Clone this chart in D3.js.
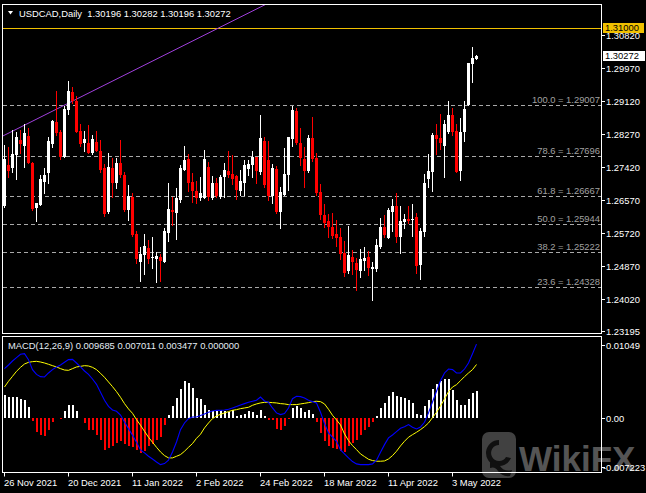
<!DOCTYPE html>
<html><head><meta charset="utf-8">
<script src="https://cdn.jsdelivr.net/npm/d3@7"></script>
<style>html,body{margin:0;padding:0;background:#000;overflow:hidden}svg{display:block}</style>
</head><body>
<script>
const dates = ["2021-11-26","2021-11-29","2021-11-30","2021-12-01","2021-12-02","2021-12-03","2021-12-06","2021-12-07","2021-12-08","2021-12-09","2021-12-10","2021-12-13","2021-12-14","2021-12-15","2021-12-16","2021-12-17","2021-12-20","2021-12-21","2021-12-22","2021-12-23","2021-12-24","2021-12-27","2021-12-28","2021-12-29","2021-12-30","2021-12-31","2022-01-03","2022-01-04","2022-01-05","2022-01-06","2022-01-07","2022-01-10","2022-01-11","2022-01-12","2022-01-13","2022-01-14","2022-01-17","2022-01-18","2022-01-19","2022-01-20","2022-01-21","2022-01-24","2022-01-25","2022-01-26","2022-01-27","2022-01-28","2022-01-31","2022-02-01","2022-02-02","2022-02-03","2022-02-04","2022-02-07","2022-02-08","2022-02-09","2022-02-10","2022-02-11","2022-02-14","2022-02-15","2022-02-16","2022-02-17","2022-02-18","2022-02-21","2022-02-22","2022-02-23","2022-02-24","2022-02-25","2022-02-28","2022-03-01","2022-03-02","2022-03-03","2022-03-04","2022-03-07","2022-03-08","2022-03-09","2022-03-10","2022-03-11","2022-03-14","2022-03-15","2022-03-16","2022-03-17","2022-03-18","2022-03-21","2022-03-22","2022-03-23","2022-03-24","2022-03-25","2022-03-28","2022-03-29","2022-03-30","2022-03-31","2022-04-01","2022-04-04","2022-04-05","2022-04-06","2022-04-07","2022-04-08","2022-04-11","2022-04-12","2022-04-13","2022-04-14","2022-04-15","2022-04-18","2022-04-19","2022-04-20","2022-04-21","2022-04-22","2022-04-25","2022-04-26","2022-04-27","2022-04-28","2022-04-29","2022-05-02","2022-05-03","2022-05-04","2022-05-05","2022-05-06","2022-05-09","2022-05-10","2022-05-11"];

const open = [1.2641,1.2746,1.2739,1.2772,1.2811,1.2795,1.2821,1.2752,1.2636,1.2643,1.2703,1.2725,1.2800,1.2858,1.2830,1.2768,1.2888,1.2935,1.2910,1.2834,1.2804,1.2804,1.2776,1.2806,1.2783,1.2738,1.2624,1.2739,1.2699,1.2752,1.2721,1.2630,1.2665,1.2568,1.2497,1.2514,1.2532,1.2507,1.2504,1.2508,1.2497,1.2572,1.2630,1.2622,1.2656,1.2733,1.2762,1.2703,1.2679,1.2662,1.2660,1.2740,1.2662,1.2701,1.2665,1.2715,1.2731,1.2722,1.2718,1.2680,1.2701,1.2736,1.2745,1.2766,1.2729,1.2808,1.2759,1.2666,1.2736,1.2625,1.2669,1.2721,1.2813,1.2886,1.2802,1.2762,1.2731,1.2815,1.2765,1.2676,1.2618,1.2603,1.2587,1.2568,1.2560,1.2519,1.2473,1.2508,1.2494,1.2474,1.2500,1.2508,1.2478,1.2478,1.2536,1.2587,1.2559,1.2626,1.2641,1.2560,1.2599,1.2606,1.2605,1.2612,1.2489,1.2574,1.2710,1.2727,1.2824,1.2816,1.2795,1.2830,1.2875,1.2834,1.2731,1.2830,1.2901,1.3006,1.30196];
const high = [1.2798,1.2792,1.2837,1.2832,1.2837,1.2851,1.2841,1.2755,1.2649,1.2721,1.2739,1.2818,1.2862,1.2937,1.2837,1.2898,1.2963,1.2948,1.2924,1.2852,1.2834,1.2848,1.2824,1.2834,1.2811,1.2748,1.2777,1.2764,1.2763,1.2811,1.2729,1.2695,1.2673,1.2576,1.2536,1.2568,1.2553,1.2560,1.2523,1.2517,1.2583,1.2699,1.2665,1.2686,1.2746,1.2795,1.2775,1.2725,1.2706,1.2714,1.2785,1.2754,1.2718,1.2713,1.2720,1.2752,1.2782,1.2772,1.2721,1.2733,1.2759,1.2759,1.2782,1.2768,1.2875,1.2818,1.2808,1.2749,1.2744,1.2689,1.2789,1.2818,1.2899,1.2894,1.2841,1.2792,1.2824,1.2869,1.2776,1.2697,1.2646,1.2620,1.2622,1.2605,1.2583,1.2550,1.2590,1.2527,1.2506,1.2529,1.2536,1.2526,1.2497,1.2556,1.2609,1.2618,1.2635,1.2659,1.2673,1.2641,1.2620,1.2641,1.2646,1.2622,1.2585,1.2723,1.2775,1.2828,1.2852,1.2878,1.2862,1.2912,1.2894,1.2852,1.2868,1.2912,1.3010,1.3051,1.30282];
const low = [1.2638,1.2716,1.2727,1.2709,1.2776,1.2740,1.2751,1.2630,1.2603,1.2643,1.2675,1.2701,1.2792,1.2824,1.2761,1.2768,1.2877,1.2907,1.2830,1.2794,1.2781,1.2776,1.2775,1.2781,1.2729,1.2616,1.2623,1.2665,1.2688,1.2716,1.2629,1.2605,1.2564,1.2493,1.2448,1.2465,1.2495,1.2480,1.2446,1.2448,1.2496,1.2551,1.2592,1.2556,1.2652,1.2733,1.2678,1.2652,1.2648,1.2656,1.2660,1.2656,1.2659,1.2665,1.2662,1.2665,1.2716,1.2697,1.2659,1.2669,1.2669,1.2721,1.2716,1.2701,1.2723,1.2689,1.2656,1.2649,1.2622,1.2583,1.2669,1.2682,1.2794,1.2800,1.2746,1.2690,1.2727,1.2757,1.2669,1.2607,1.2587,1.2562,1.2557,1.2538,1.2504,1.2460,1.2469,1.2465,1.2424,1.2459,1.2476,1.2463,1.2399,1.2474,1.2532,1.2560,1.2559,1.2576,1.2549,1.2519,1.2585,1.2596,1.2563,1.2467,1.2453,1.2563,1.2690,1.2680,1.2775,1.2788,1.2714,1.2829,1.2824,1.2727,1.2708,1.2809,1.2900,1.2960,1.30196];
const close = [1.2761,1.2731,1.2774,1.2818,1.2800,1.2828,1.2752,1.2633,1.2648,1.2710,1.2721,1.2808,1.2860,1.2828,1.2768,1.2890,1.2937,1.2910,1.2832,1.2800,1.2813,1.2778,1.2813,1.2783,1.2733,1.2619,1.2742,1.2699,1.2752,1.2721,1.2630,1.2666,1.2566,1.2503,1.2516,1.2538,1.2504,1.2510,1.2512,1.2499,1.2576,1.2633,1.2626,1.2662,1.2739,1.2759,1.2701,1.2678,1.2662,1.2673,1.2762,1.2665,1.2700,1.2666,1.2715,1.2733,1.2721,1.2710,1.2682,1.2706,1.2746,1.2749,1.2766,1.2731,1.2815,1.2695,1.2666,1.2739,1.2624,1.2677,1.2723,1.2818,1.2888,1.2802,1.2764,1.2731,1.2815,1.2762,1.2673,1.2618,1.2596,1.2587,1.2563,1.2557,1.2516,1.2469,1.2514,1.2496,1.2476,1.2503,1.2507,1.2480,1.2484,1.2540,1.2587,1.2566,1.2630,1.2641,1.2560,1.2602,1.2607,1.2602,1.2607,1.2487,1.2576,1.2701,1.2731,1.2824,1.2813,1.2803,1.2852,1.2875,1.2832,1.2729,1.2830,1.2891,1.3008,1.3021,1.30272];

const macdMain = [0.00647,0.00695,0.00747,0.00791,0.00835,0.00843,0.00765,0.00634,0.00572,0.00542,0.00538,0.0059,0.00634,0.00669,0.00695,0.0073,0.00765,0.00769,0.00721,0.00669,0.00616,0.00572,0.00511,0.00441,0.00336,0.00232,0.00153,0.00105,0.00087,0.00039,-0.00052,-0.0014,-0.00227,-0.00319,-0.0042,-0.00459,-0.00503,-0.00538,-0.00577,-0.00612,-0.00599,-0.00555,-0.00446,-0.00315,-0.00153,-0.00066,-0.00009,0.00013,0.00013,0.00031,0.00052,0.00074,0.00092,0.001,0.001,0.00105,0.00114,0.00131,0.00149,0.0017,0.00188,0.00205,0.00219,0.00232,0.00275,0.00223,0.00205,0.00131,0.00066,0.00044,0.00057,0.00131,0.00253,0.00284,0.0028,0.00262,0.00232,0.00214,0.00197,0.00074,-0.00074,-0.00197,-0.00253,-0.00306,-0.0042,-0.00472,-0.00524,-0.00572,-0.00603,-0.00612,-0.00612,-0.00612,-0.00603,-0.00555,-0.0045,-0.0035,-0.00262,-0.00223,-0.00179,-0.00135,-0.00114,-0.00087,-0.00122,-0.00144,-0.00118,-0.00057,0.00066,0.0021,0.0035,0.00489,0.0059,0.00642,0.00634,0.0059,0.0059,0.00642,0.00721,0.00843,0.009685];
const macdSignal = [0.00406,0.00481,0.00546,0.00612,0.00664,0.00708,0.0073,0.00739,0.00743,0.00734,0.00721,0.00704,0.00686,0.00669,0.00647,0.00629,0.00625,0.00647,0.00669,0.00677,0.00686,0.00682,0.00664,0.00634,0.00586,0.00533,0.00472,0.00411,0.00345,0.00271,0.00188,0.00118,0.00061,-0.00022,-0.00096,-0.00175,-0.00253,-0.00319,-0.00385,-0.00446,-0.00494,-0.00524,-0.00524,-0.00503,-0.00481,-0.00437,-0.00385,-0.00336,-0.00267,-0.00214,-0.00131,-0.00066,-0.00009,0.00026,0.00048,0.00066,0.00083,0.001,0.00109,0.00122,0.00131,0.0014,0.00166,0.00184,0.00197,0.00205,0.00205,0.00201,0.00197,0.00188,0.00184,0.00175,0.00175,0.00175,0.00184,0.00192,0.00201,0.00214,0.00219,0.00214,0.00184,0.00114,0.00035,-0.00026,-0.00092,-0.0021,-0.00297,-0.00363,-0.00415,-0.00472,-0.00507,-0.00542,-0.00559,-0.00568,-0.00568,-0.00564,-0.00538,-0.00494,-0.00437,-0.00367,-0.00306,-0.00253,-0.00219,-0.00188,-0.00153,-0.00114,-0.00066,0.00004,0.00074,0.00157,0.00249,0.00345,0.00406,0.00437,0.00489,0.00542,0.0059,0.00634,0.007011];
const macdHist = [0.00306,0.00275,0.00275,0.00271,0.00249,0.0024,0.0014,-0.00044,-0.00188,-0.00227,-0.0024,-0.00162,-0.00057,0,-0.00013,0.00087,0.00175,0.00166,0.00087,0,-0.00066,-0.00162,-0.00153,-0.00219,-0.00284,-0.00424,-0.00393,-0.00371,-0.00328,-0.00306,-0.00336,-0.00363,-0.0038,-0.00424,-0.00459,-0.00437,-0.00363,-0.00336,-0.00284,-0.00249,-0.00087,0.00044,0.00153,0.00262,0.0038,0.00481,0.00459,0.00393,0.00262,0.00249,0.00175,0.00109,0.00096,0.00087,0.00109,0.00087,0.00074,0.001,0.00022,0.00044,0.00057,0.00087,0.00074,0.00044,0.00109,0.0003,-0.00022,-0.0003,-0.00144,-0.00162,-0.001,-0.0001,0.00131,0.00153,0.00131,0.00074,0.001,0.00057,-0.00057,-0.00197,-0.00306,-0.00371,-0.00393,-0.00406,-0.00437,-0.0045,-0.00363,-0.00328,-0.00284,-0.00219,-0.00153,-0.00118,-0.00057,0.0003,0.00131,0.00197,0.00284,0.00336,0.00284,0.00275,0.00262,0.00232,0.00197,0.00057,0.00044,0.00153,0.0024,0.0038,0.0045,0.00481,0.00511,0.00511,0.00371,0.0024,0.00175,0.00175,0.00249,0.00328,0.003477];

const priceTicks = [1.30820,1.29970,1.29120,1.28270,1.27420,1.26570,1.25720,1.24870,1.24020,1.23195];
const macdTickValues = [0.01049, 0.00, -0.007223];
const macdTickLabels = ["0.01049", "0.00", "-0.007223"];
const dateTickDates = ["2021-11-26","2021-12-20","2022-01-11","2022-02-02","2022-02-24","2022-03-18","2022-04-11","2022-05-03"];
const dateTickLabels = ["26 Nov 2021","20 Dec 2021","11 Jan 2022","2 Feb 2022","24 Feb 2022","18 Mar 2022","11 Apr 2022","3 May 2022"];
const fibLevels = [100.0, 78.6, 61.8, 50.0, 38.2, 23.6, 0.0];
const fibPrices = [1.29007, 1.27696, 1.26667, 1.25944, 1.25222, 1.24328, 1.22883];
const levelPrice = 1.31000;
const lastPrice = 1.30272;
const trendDates = ["2021-11-26", "2022-02-24"];
const trendPrices = [1.2823, 1.3153];
const symbolTitle = "USDCAD,Daily";
const ohlcText = ["1.30196", "1.30282", "1.30196", "1.30272"];
const macdTitle = "MACD(12,26,9) 0.009685 0.007011 0.003477 0.000000";

const W = 646, H = 493;
const FONT = "'Liberation Sans', Arial, sans-serif";
const FS = 9.4;
const L = 3, R = 601.5, mainTop = 4.5, mainBot = 333.5, macdTop = 336.5, macdBot = 472.5;

const svg = d3.select("body").append("svg").attr("width", W).attr("height", H)
  .style("font-family", FONT).style("font-size", FS + "px");
svg.append("rect").attr("width", W).attr("height", H).attr("fill", "#000");

const defs = svg.append("defs");
defs.append("clipPath").attr("id", "clipMain").append("rect")
  .attr("x", L).attr("y", mainTop + 0.5).attr("width", R - L).attr("height", mainBot - mainTop - 0.5);
defs.append("clipPath").attr("id", "clipMacd").append("rect")
  .attr("x", L).attr("y", macdTop + 0.5).attr("width", R - L).attr("height", macdBot - macdTop - 0.5);

const x = d3.scaleBand().domain(dates).range([2.5, 2.5 + 4 * dates.length]).paddingInner(0).paddingOuter(0);
const cx = d => x(d) + x.bandwidth() / 2;
const y = d3.scaleLinear().domain([1.2311, 1.3135]).range([334, 14]);
const ym = d3.scaleLinear().domain([-0.007223, 0.01049]).range([473, 338]);

const bars = dates.map((d, i) => ({d, o: open[i], h: high[i], l: low[i], c: close[i], m: macdMain[i], s: macdSignal[i], hist: macdHist[i]}));

// ---- main panel ----
const gMain = svg.append("g").attr("clip-path", "url(#clipMain)");

// fibo levels
fibLevels.forEach((lv, k) => {
  const yy = Math.round(y(fibPrices[k])) + 0.5;
  gMain.append("line").attr("x1", L).attr("x2", R).attr("y1", yy).attr("y2", yy)
    .attr("stroke", "#a8a8a8").attr("stroke-width", 1).attr("stroke-dasharray", "4,3");
  gMain.append("text").attr("x", 600).attr("y", yy - 2.5).attr("text-anchor", "end")
    .attr("fill", "#a0a0a0").text(lv.toFixed(1) + " = " + fibPrices[k].toFixed(5));
});

// horizontal level
const yl = Math.round(y(levelPrice)) + 0.5;
gMain.append("line").attr("x1", L).attr("x2", R).attr("y1", yl).attr("y2", yl)
  .attr("stroke", "#f0c000").attr("stroke-width", 1);

// trendline (extended)
const tx0 = cx(trendDates[0]), tx1 = cx(trendDates[1]);
const ty0 = y(trendPrices[0]), ty1 = y(trendPrices[1]);
const slope = (ty1 - ty0) / (tx1 - tx0);
gMain.append("line").attr("x1", 0).attr("y1", ty0 + slope * (0 - tx0))
  .attr("x2", 610).attr("y2", ty0 + slope * (610 - tx0))
  .attr("stroke", "#a040dc").attr("stroke-width", 1);

// candles
const cg = gMain.append("g");
cg.selectAll("line.wick").data(bars).join("line").attr("class", "wick")
  .attr("x1", b => cx(b.d)).attr("x2", b => cx(b.d))
  .attr("y1", b => Math.round(y(b.h))).attr("y2", b => Math.round(y(b.l)) + 1)
  .attr("stroke", b => b.c >= b.o ? "#ffffff" : "#ff0000").attr("stroke-width", 1);
cg.selectAll("rect.body").data(bars).join("rect").attr("class", "body")
  .attr("x", b => cx(b.d) - 1.5).attr("width", 3)
  .attr("y", b => Math.round(y(Math.max(b.o, b.c))))
  .attr("height", b => Math.max(1, Math.round(y(Math.min(b.o, b.c))) - Math.round(y(Math.max(b.o, b.c)))))
  .attr("fill", b => b.c >= b.o ? "#ffffff" : "#ff0000")
  .attr("shape-rendering", "crispEdges");

// ---- MACD panel ----
const gM = svg.append("g").attr("clip-path", "url(#clipMacd)");
const y0 = Math.round(ym(0));
gM.selectAll("rect.hist").data(bars).join("rect").attr("class", "hist")
  .attr("x", b => cx(b.d) - 0.5).attr("width", 2)
  .attr("y", b => b.hist >= 0 ? Math.round(ym(b.hist)) : y0)
  .attr("height", b => Math.max(b.hist === 0 ? 0 : 1, Math.abs(Math.round(ym(b.hist)) - y0)))
  .attr("fill", b => b.hist >= 0 ? "#ffffff" : "#ff0000")
  .attr("shape-rendering", "crispEdges");
gM.append("path").datum(bars)
  .attr("d", d3.line().x(b => cx(b.d)).y(b => ym(b.s)))
  .attr("fill", "none").attr("stroke", "#ffff00").attr("stroke-width", 1);
gM.append("path").datum(bars)
  .attr("d", d3.line().x(b => cx(b.d)).y(b => ym(b.m)))
  .attr("fill", "none").attr("stroke", "#0000ff").attr("stroke-width", 1.1);

// ---- watermark ----
const wm = svg.append("g").attr("opacity", 0.62);
wm.append("rect").attr("x", 482).attr("y", 432).attr("width", 34).attr("height", 46).attr("rx", 7)
  .attr("fill", "#6a6a6a");
wm.append("path").attr("d", "M499,440 a13,13 0 1,0 12,18 l-5,-1 a8,8 0 1,1 -7,-12 z")
  .attr("fill", "#1a1a1a");
wm.append("path").attr("d", "M490,462 q6,-2 10,4 q4,6 12,4 l-2,6 q-8,1 -12,-5 q-3,-5 -8,-3 z")
  .attr("fill", "#1a1a1a");
wm.append("text").attr("x", 519).attr("y", 471).attr("font-size", "35px").attr("font-weight", "bold")
  .attr("fill", "#8a8a8a").text("WikiFX");

// ---- frames ----
svg.append("rect").attr("x", L - 0.5 + 0.0).attr("y", mainTop).attr("width", R - L + 0.5).attr("height", mainBot - mainTop)
  .attr("fill", "none").attr("stroke", "#ffffff").attr("stroke-width", 1);
svg.append("rect").attr("x", L - 0.5).attr("y", macdTop).attr("width", R - L + 0.5).attr("height", macdBot - macdTop)
  .attr("fill", "none").attr("stroke", "#ffffff").attr("stroke-width", 1);

// ---- header texts ----
svg.append("path").attr("d", "M8,11 L13,11 L10.5,14.5 Z").attr("fill", "#ffffff");
const ht = svg.append("text").attr("x", 19).attr("y", 16.5).attr("fill", "#ffffff").style("white-space", "pre");
ht.text(symbolTitle + "  " + ohlcText.join(" "));
svg.append("text").attr("x", 8).attr("y", 349).attr("fill", "#e4ecf4").style("white-space", "pre").text(macdTitle);

// ---- price axis ----
const pa = svg.append("g");
priceTicks.forEach(p => {
  const yy = Math.round(y(p)) + 0.5;
  pa.append("line").attr("x1", R).attr("x2", R + 3.5).attr("y1", yy).attr("y2", yy).attr("stroke", "#fff");
  pa.append("text").attr("x", 606).attr("y", yy).attr("dy", "0.36em").attr("fill", "#fff").text(p.toFixed(5));
});
// level box
pa.append("rect").attr("x", 603).attr("y", Math.round(y(levelPrice)) - 5).attr("width", 41).attr("height", 10).attr("fill", "#f0c000");
pa.append("text").attr("x", 605).attr("y", Math.round(y(levelPrice))).attr("dy", "0.36em").attr("fill", "#000").text(levelPrice.toFixed(5));
// last price box
pa.append("rect").attr("x", 603).attr("y", Math.round(y(lastPrice)) - 5).attr("width", 42).attr("height", 10).attr("fill", "#ffffff");
pa.append("text").attr("x", 605).attr("y", Math.round(y(lastPrice))).attr("dy", "0.36em").attr("fill", "#000").text(lastPrice.toFixed(5));

// ---- macd axis ----
macdTickValues.forEach((v, k) => {
  let yy = Math.round(ym(v)) + 0.5;
  let ty = yy;
  if (k === 0) ty = yy + 7;
  if (k === 2) ty = yy - 6;
  svg.append("line").attr("x1", R).attr("x2", R + 3.5).attr("y1", ty).attr("y2", ty).attr("stroke", "#fff");
  svg.append("text").attr("x", k === 2 ? 603 : 606).attr("y", ty).attr("dy", "0.36em").attr("fill", "#fff").text(macdTickLabels[k]);
});

// ---- date axis ----
dateTickDates.forEach((d, k) => {
  const xx = cx(d) - 0.5 + 0.0;
  svg.append("line").attr("x1", Math.floor(xx) + 0.5).attr("x2", Math.floor(xx) + 0.5).attr("y1", macdBot).attr("y2", macdBot + 4)
    .attr("stroke", "#fff");
  svg.append("text").attr("x", Math.floor(xx)).attr("y", 486).attr("fill", "#fff").text(dateTickLabels[k]);
});
</script>
</body></html>
